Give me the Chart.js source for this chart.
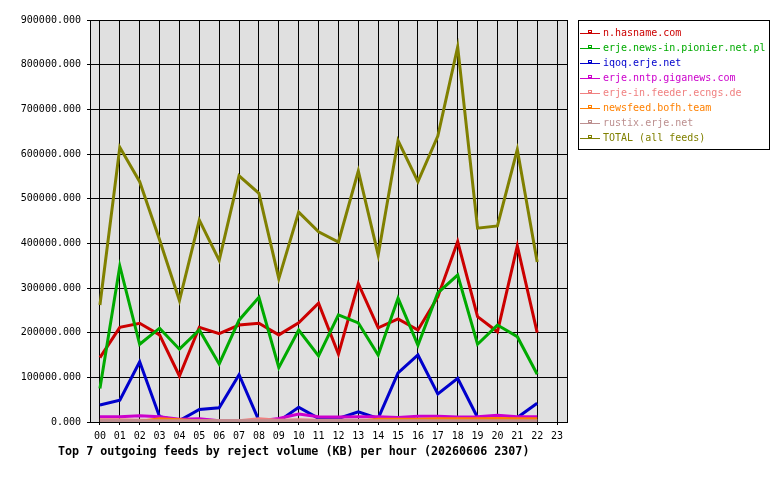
<!DOCTYPE html>
<html>
<head>
<meta charset="utf-8">
<script src="https://cdn.jsdelivr.net/npm/chart.js@4/dist/chart.umd.min.js"></script>
<style>
  html, body { margin: 0; padding: 0; background: #ffffff; }
  #wrap { width: 780px; height: 480px; position: relative; }
</style>
</head>
<body>
<div id="wrap"><canvas id="chart" width="780" height="480"></canvas></div>
<script>
// 数据：每小时的拒收量（KB）
const hours = ['00','01','02','03','04','05','06','07','08','09','10','11','12','13','14','15','16','17','18','19','20','21','22','23'];
const yTicks = [0, 100000, 200000, 300000, 400000, 500000, 600000, 700000, 800000, 900000];

const hasname = [144000, 212000, 221000, 195000, 103000, 212000, 198000, 217000, 221000, 195000, 222000, 266000, 152000, 310000, 211000, 231000, 206000, 280000, 404000, 236000, 202000, 394000, 200000];
const pionier = [75000, 349000, 174000, 210000, 163000, 206000, 130000, 228000, 279000, 122000, 206000, 148000, 240000, 222000, 150000, 277000, 172000, 289000, 329000, 174000, 217000, 191000, 107000];
const iqoq = [38000, 49000, 135000, 12000, 3000, 28000, 32000, 106000, 3000, 2000, 33000, 8000, 8000, 23000, 8000, 110000, 150000, 63000, 98000, 10000, 4000, 10000, 42000];
const giganews = [12000, 12000, 14000, 12000, 6000, 7000, 3000, 2000, 2000, 8000, 18000, 12000, 11000, 12000, 12000, 10000, 13000, 13000, 11000, 12000, 15000, 12000, 12000];
const ecngs = [5000, 5000, 4000, 4000, 3000, 3000, 3000, 3000, 7000, 4000, 5000, 4000, 4000, 4000, 4000, 4000, 4000, 4000, 4000, 4000, 8000, 4000, 4000];
const bofh = [1000, 1000, 1000, 7000, 5000, 2000, 1000, 1000, 1000, 1000, 1000, 1000, 1000, 1000, 6000, 6000, 6000, 7000, 7000, 7000, 8000, 7000, 7000];
const rustix = [3000, 3000, 3000, 3000, 3000, 3000, 3000, 3000, 3000, 3000, 3000, 3000, 3000, 3000, 3000, 3000, 3000, 3000, 3000, 3000, 3000, 3000, 3000];
const total = [262000, 615000, 538000, 408000, 272000, 452000, 362000, 551000, 512000, 321000, 470000, 426000, 403000, 562000, 374000, 630000, 538000, 640000, 840000, 434000, 439000, 610000, 358000];

const seriesNames = ['n.hasname.com', 'erje.news-in.pionier.net.pl', 'iqoq.erje.net', 'erje.nntp.giganews.com', 'erje-in.feeder.ecngs.de', 'newsfeed.bofh.team', 'rustix.erje.net', 'TOTAL (all feeds)'];
const seriesColors = ['#cc0000', '#00aa00', '#0000cc', '#cc00cc', '#f08080', '#ff8000', '#bc8f8f', '#808000'];
const seriesData = [hasname, pionier, iqoq, giganews, ecngs, bofh, rustix, total];

const MONO = '"DejaVu Sans Mono", "Liberation Mono", monospace';

// 绘图区背景 + 边框
const plotFrame = {
  id: 'plotFrame',
  beforeDraw(chart) {
    const { ctx, chartArea: a } = chart;
    ctx.save();
    ctx.fillStyle = '#e0e0e0';
    ctx.fillRect(a.left, a.top, a.right - a.left, a.bottom - a.top);
    ctx.restore();
  },
  afterDraw(chart) {
    const { ctx, chartArea: a } = chart;
    ctx.save();
    ctx.strokeStyle = '#000000';
    ctx.lineWidth = 1;
    ctx.strokeRect(Math.round(a.left) + 0.5, Math.round(a.top) + 0.5, Math.round(a.right - a.left), Math.round(a.bottom - a.top));

    // 标题
    ctx.fillStyle = '#000000';
    ctx.font = 'bold 11.7px ' + MONO;
    ctx.textAlign = 'left';
    ctx.textBaseline = 'middle';
    ctx.fillText('Top 7 outgoing feeds by reject volume (KB) per hour (20260606 2307)', 58, 452);

    // 图例
    ctx.strokeRect(578.5, 20.5, 191, 129);
    ctx.font = '10px ' + MONO;
    seriesNames.forEach((name, i) => {
      const y = 33 + i * 15;
      ctx.strokeStyle = seriesColors[i];
      ctx.fillStyle = seriesColors[i];
      ctx.beginPath();
      ctx.moveTo(580, y + 0.5);
      ctx.lineTo(600, y + 0.5);
      ctx.stroke();
      ctx.strokeRect(588.5, y - 2.5, 3, 2);
      ctx.fillText(name, 603, y);
    });
    ctx.restore();
  }
};

new Chart(document.getElementById('chart'), {
  type: 'line',
  data: {
    labels: hours,
    datasets: seriesData.map((d, i) => ({
      label: seriesNames[i],
      data: d,
      borderColor: seriesColors[i],
      backgroundColor: seriesColors[i],
      borderWidth: 3,
      pointRadius: 0,
      tension: 0,
      fill: false,
      order: 10 - i
    }))
  },
  options: {
    responsive: false,
    animation: false,
    layout: { padding: { left: 0, top: 20, right: 213, bottom: 0 } },
    plugins: {
      legend: { display: false },
      tooltip: { enabled: false },
      title: { display: false }
    },
    scales: {
      x: {
        type: 'category',
        offset: true,
        afterFit: s => { s.height = 58; },
        grid: { offset: false, color: '#000000', lineWidth: 1, tickLength: 3, drawOnChartArea: true },
        border: { display: true, color: '#000000' },
        ticks: { color: '#000000', font: { family: MONO, size: 10 }, padding: 5, maxRotation: 0, autoSkip: false }
      },
      y: {
        min: 0,
        max: 900000,
        afterFit: s => { s.width = 90; },
        afterBuildTicks: s => { s.ticks = yTicks.map(v => ({ value: v })); },
        grid: { color: '#000000', lineWidth: 1, tickLength: 3 },
        border: { display: true, color: '#000000' },
        ticks: {
          color: '#000000',
          font: { family: MONO, size: 10 },
          padding: 6,
          callback: v => Number(v).toFixed(3)
        }
      }
    }
  },
  plugins: [plotFrame]
});
</script>
</body>
</html>
